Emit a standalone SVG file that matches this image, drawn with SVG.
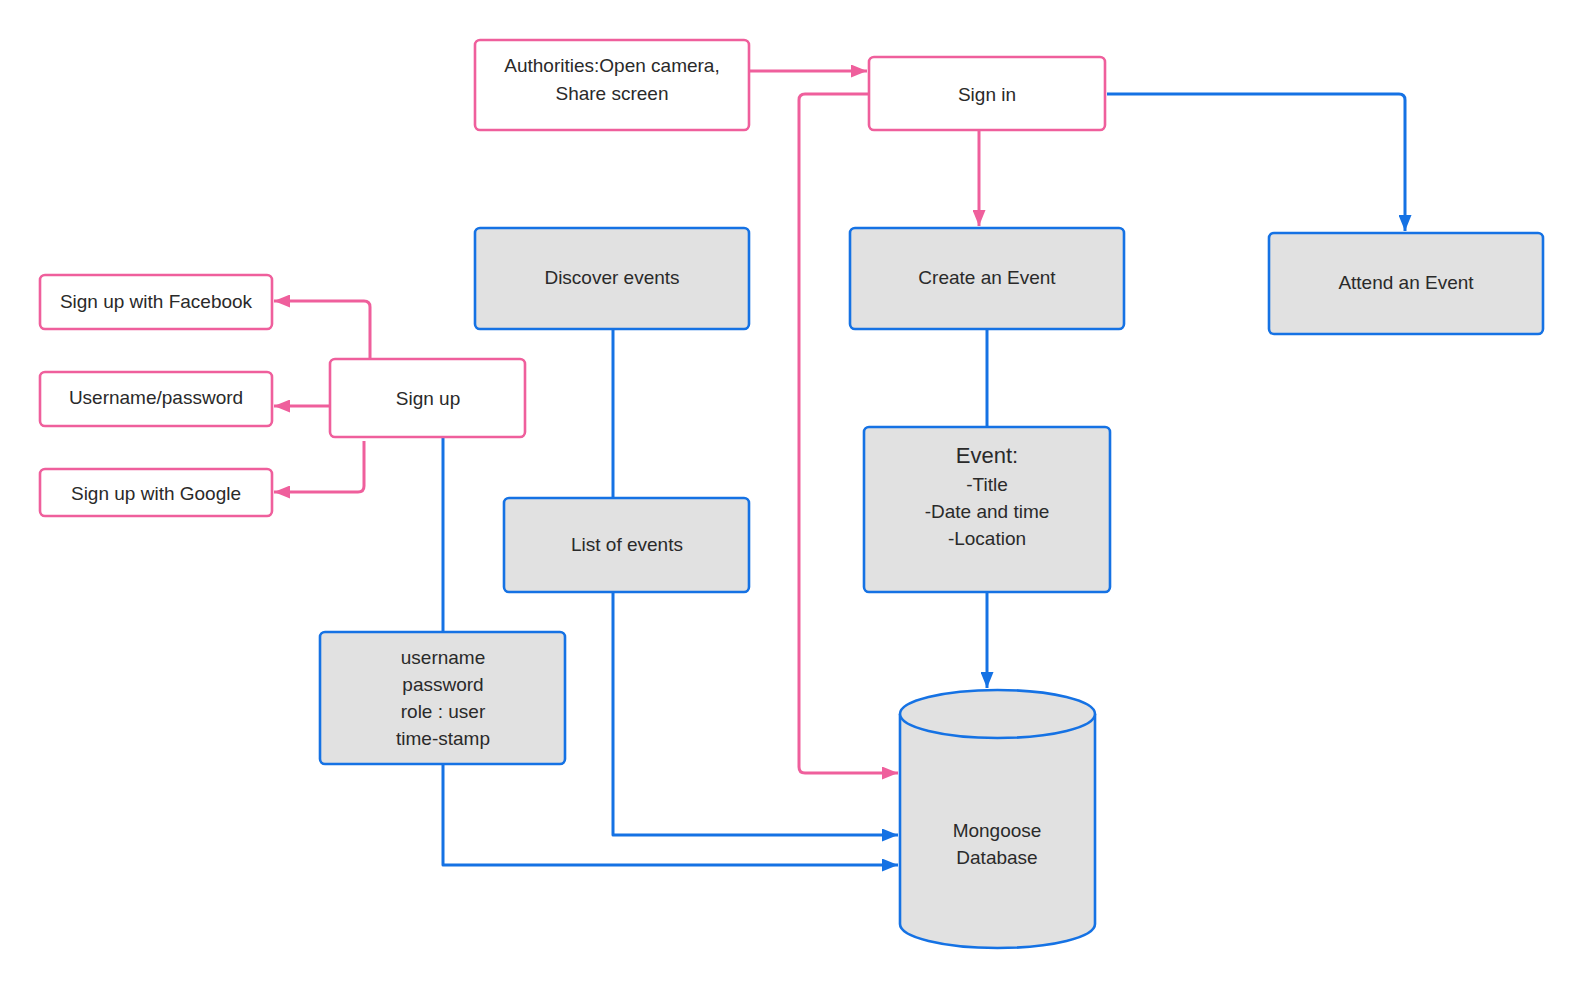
<svg xmlns="http://www.w3.org/2000/svg" width="1583" height="988" viewBox="0 0 1583 988">
<defs>
<style>
.pk{fill:#fff;stroke:#EF5F9C;stroke-width:2.6}
.bl{fill:#E1E1E1;stroke:#1572E4;stroke-width:2.6}
.t{font-family:"Liberation Sans","DejaVu Sans",sans-serif;font-size:19px;fill:#2a2a2a;text-anchor:middle}
.cp{fill:none;stroke:#EF5F9C;stroke-width:3;stroke-linejoin:round}
.cb{fill:none;stroke:#1572E4;stroke-width:3;stroke-linejoin:round}
</style>
<marker id="ap" viewBox="0 0 10 10" refX="10" refY="5" markerWidth="16" markerHeight="13" markerUnits="userSpaceOnUse" orient="auto" preserveAspectRatio="none"><path d="M0,0L10,5L0,10z" fill="#EF5F9C"/></marker>
<marker id="ab" viewBox="0 0 10 10" refX="10" refY="5" markerWidth="16" markerHeight="13" markerUnits="userSpaceOnUse" orient="auto" preserveAspectRatio="none"><path d="M0,0L10,5L0,10z" fill="#1572E4"/></marker>
</defs>
<rect width="1583" height="988" fill="#fff"/>
<g id="connectors">
<path class="cp" d="M749,71H867" style="marker-end:url(#ap)"/>
<path class="cp" d="M869,94H805Q799,94 799,100V767Q799,773 805,773H898" style="marker-end:url(#ap)"/>
<path class="cp" d="M979,130V226" style="marker-end:url(#ap)"/>
<path class="cb" d="M1107,94H1399Q1405,94 1405,100V231" style="marker-end:url(#ab)"/>
<path class="cp" d="M370,359V307Q370,301 364,301H274" style="marker-end:url(#ap)"/>
<path class="cp" d="M330,406H274" style="marker-end:url(#ap)"/>
<path class="cp" d="M364,441V486Q364,492 358,492H274" style="marker-end:url(#ap)"/>
<path class="cb" d="M443,437V632"/>
<path class="cb" d="M443,764V865H898" style="marker-end:url(#ab)"/>
<path class="cb" d="M613,329V498"/>
<path class="cb" d="M613,592V835H898" style="marker-end:url(#ab)"/>
<path class="cb" d="M987,329V427"/>
<path class="cb" d="M987,592V688" style="marker-end:url(#ab)"/>
</g>
<g id="authorities"><rect class="pk" x="475" y="40" width="274" height="90" rx="5"/><text class="t" x="612" y="72">Authorities:Open camera,</text><text class="t" x="612" y="100">Share screen</text></g>
<g id="signin"><rect class="pk" x="869" y="57" width="236" height="73" rx="5"/><text class="t" x="987" y="101">Sign in</text></g>
<g id="discover"><rect class="bl" x="475" y="228" width="274" height="101" rx="5"/><text class="t" x="612" y="284">Discover events</text></g>
<g id="create"><rect class="bl" x="850" y="228" width="274" height="101" rx="5"/><text class="t" x="987" y="284">Create an Event</text></g>
<g id="attend"><rect class="bl" x="1269" y="233" width="274" height="101" rx="5"/><text class="t" x="1406" y="289">Attend an Event</text></g>
<g id="facebook"><rect class="pk" x="40" y="275" width="232" height="54" rx="5"/><text class="t" x="156" y="308">Sign up with Facebook</text></g>
<g id="userpass"><rect class="pk" x="40" y="372" width="232" height="54" rx="5"/><text class="t" x="156" y="404">Username/password</text></g>
<g id="google"><rect class="pk" x="40" y="469" width="232" height="47" rx="5"/><text class="t" x="156" y="500">Sign up with Google</text></g>
<g id="signup"><rect class="pk" x="330" y="359" width="195" height="78" rx="5"/><text class="t" x="428" y="405">Sign up</text></g>
<g id="listevents"><rect class="bl" x="504" y="498" width="245" height="94" rx="5"/><text class="t" x="627" y="551">List of events</text></g>
<g id="event"><rect class="bl" x="864" y="427" width="246" height="165" rx="5"/><text class="t" x="987" y="463" style="font-size:22px">Event:</text><text class="t" x="987" y="491">-Title</text><text class="t" x="987" y="518">-Date and time</text><text class="t" x="987" y="545">-Location</text></g>
<g id="userschema"><rect class="bl" x="320" y="632" width="245" height="132" rx="5"/><text class="t" x="443" y="664">username</text><text class="t" x="443" y="691">password</text><text class="t" x="443" y="718">role : user</text><text class="t" x="443" y="745">time-stamp</text></g>
<g id="database"><path class="bl" d="M900,714V924A97.5,24 0 0 0 1095,924V714A97.5,24 0 0 0 900,714Z"/><path class="bl" d="M900,714A97.5,24 0 0 0 1095,714" fill="none"/><text class="t" x="997" y="837">Mongoose</text><text class="t" x="997" y="864">Database</text></g>
</svg>
